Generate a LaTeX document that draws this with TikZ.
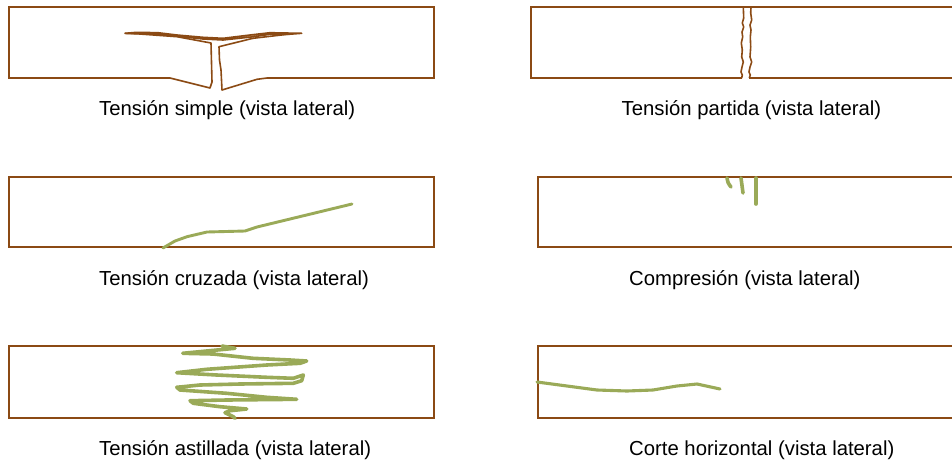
\documentclass[tikz,border=0pt]{standalone}
\usepackage{fontspec}
\setmainfont{Liberation Sans}
\begin{document}
\begin{tikzpicture}[x=1pt,y=-1pt,
  wood/.style={draw=woodbrown,line width=2.1pt,line join=miter},
  crackline/.style={draw=woodbrown,line width=1.6pt,line join=round},
  split/.style={draw=crackgreen,line width=3.3pt,line cap=round,line join=round},
  caption/.style={anchor=base west,inner sep=0pt,font=\fontsize{20.3}{24}\selectfont}]
\definecolor{woodbrown}{RGB}{139,74,20}
\definecolor{woodtan}{RGB}{205,160,115}
\definecolor{crackgreen}{RGB}{154,170,88}
\clip (0,0) rectangle (952,461);
\fill[white] (0,0) rectangle (952,461);

% --- simple tension: beam opened from below
\draw[wood] (170,78) -- (9,78) -- (9,7) -- (434,7) -- (434,78) -- (267,78);
\draw[crackline] (170,78) -- (210,88) -- (212,82) -- (211,43) -- (177,36.7) -- (137,33.8) -- (125,33.4);
\draw[crackline] (267,78) -- (257,79.3) -- (222,90) -- (221,70) -- (219.5,60) -- (219,46.7) -- (253,38.3) -- (290,34);
\draw[crackline,fill=woodtan] (125,33.3) -- (137,32.3) -- (158,32.7) -- (177,35) -- (203,37.3)
  -- (223,38.3) -- (250,35) -- (270,32.7) -- (301.7,33.3) -- (290,34.2) -- (270,34.3) -- (253,36.8)
  -- (223,40) -- (203,39) -- (177,36.2) -- (158,34.2) -- (137,33.6) -- cycle;

% --- split tension: crack through the full depth
\draw[wood] (742,78) -- (531,78) -- (531,7) -- (960,7) -- (960,78) -- (749,78);
\draw[crackline] (743.3,7) -- (743.7,18) -- (742.3,23) -- (743.7,27) -- (742,32) -- (742.7,37)
  -- (741.3,43) -- (742.3,50) -- (741.7,57) -- (743.3,62) -- (742,67) -- (741,72) -- (742.3,75) -- (741.7,78);
\draw[crackline] (751,7) -- (750.7,13) -- (751.7,20) -- (750,25) -- (751,30) -- (750.3,37)
  -- (750.7,47) -- (750,57) -- (751.7,62) -- (750,67) -- (749,72) -- (750.3,75) -- (749.3,78);

% --- cross-grain tension
\draw[wood] (9,177) rectangle (434,247);
\draw[split,line width=2.9pt] (163,248) -- (175,241) -- (187,236.7) -- (207,232) -- (245,231) -- (257,227) -- (352,204);

% --- compression
\draw[wood] (538,177) rectangle (960,247);
\draw[split,line width=3.6pt] (727,178) .. controls (728,183) .. (731,187);
\draw[split,line width=3.6pt] (741,178) .. controls (742,185) .. (743,193);
\draw[split,line width=3.6pt] (756,178) -- (756,204);

% --- splintering tension
\draw[wood] (9,346) rectangle (434,418);
\draw[split,line width=3.6pt] (222,346) -- (235,348.3) -- (182.7,353.3) -- (213,354) -- (253,358.3) -- (290,360)
  -- (306.7,361) -- (300,363.3) -- (266.7,365) -- (206.7,369.3) -- (176.7,372.7)
  -- (216.7,375) -- (266.7,377.3) -- (293.3,378.3) -- (303.3,375) -- (301.7,380.7) -- (293.3,383.3)
  -- (240,384) -- (200,385) -- (176.7,387.3) -- (180,390) -- (226.7,393.3) -- (266.7,397.3) -- (296.7,399.3)
  -- (226.7,400) -- (190,400.7) -- (193.3,403.3) -- (220,406.7) -- (246.7,409)
  -- (230,410.7) -- (225,412.7) -- (233.3,416.7) -- (235,418.3);

% --- horizontal shear
\draw[wood] (538,346) rectangle (960,418);
\draw[split,line width=3.1pt] (537,382) -- (567,386) -- (597,390) -- (627,391) -- (653,390) -- (677,386) -- (697,384) -- (720,389);

% captions
\node[caption] (c1) at (99,115.5) {Tensión simple (vista lateral)};
\node[caption] (c2) at (621.5,115.5) {Tensión partida (vista lateral)};
\node[caption] (c3) at (99,285.5) {Tensión cruzada (vista lateral)};
\node[caption] (c4) at (629,285.5) {Compresión (vista lateral)};
\node[caption] (c5) at (99,455.5) {Tensión astillada (vista lateral)};
\node[caption] (c6) at (629,455.5) {Corte horizontal (vista lateral)};
\end{tikzpicture}
\end{document}
